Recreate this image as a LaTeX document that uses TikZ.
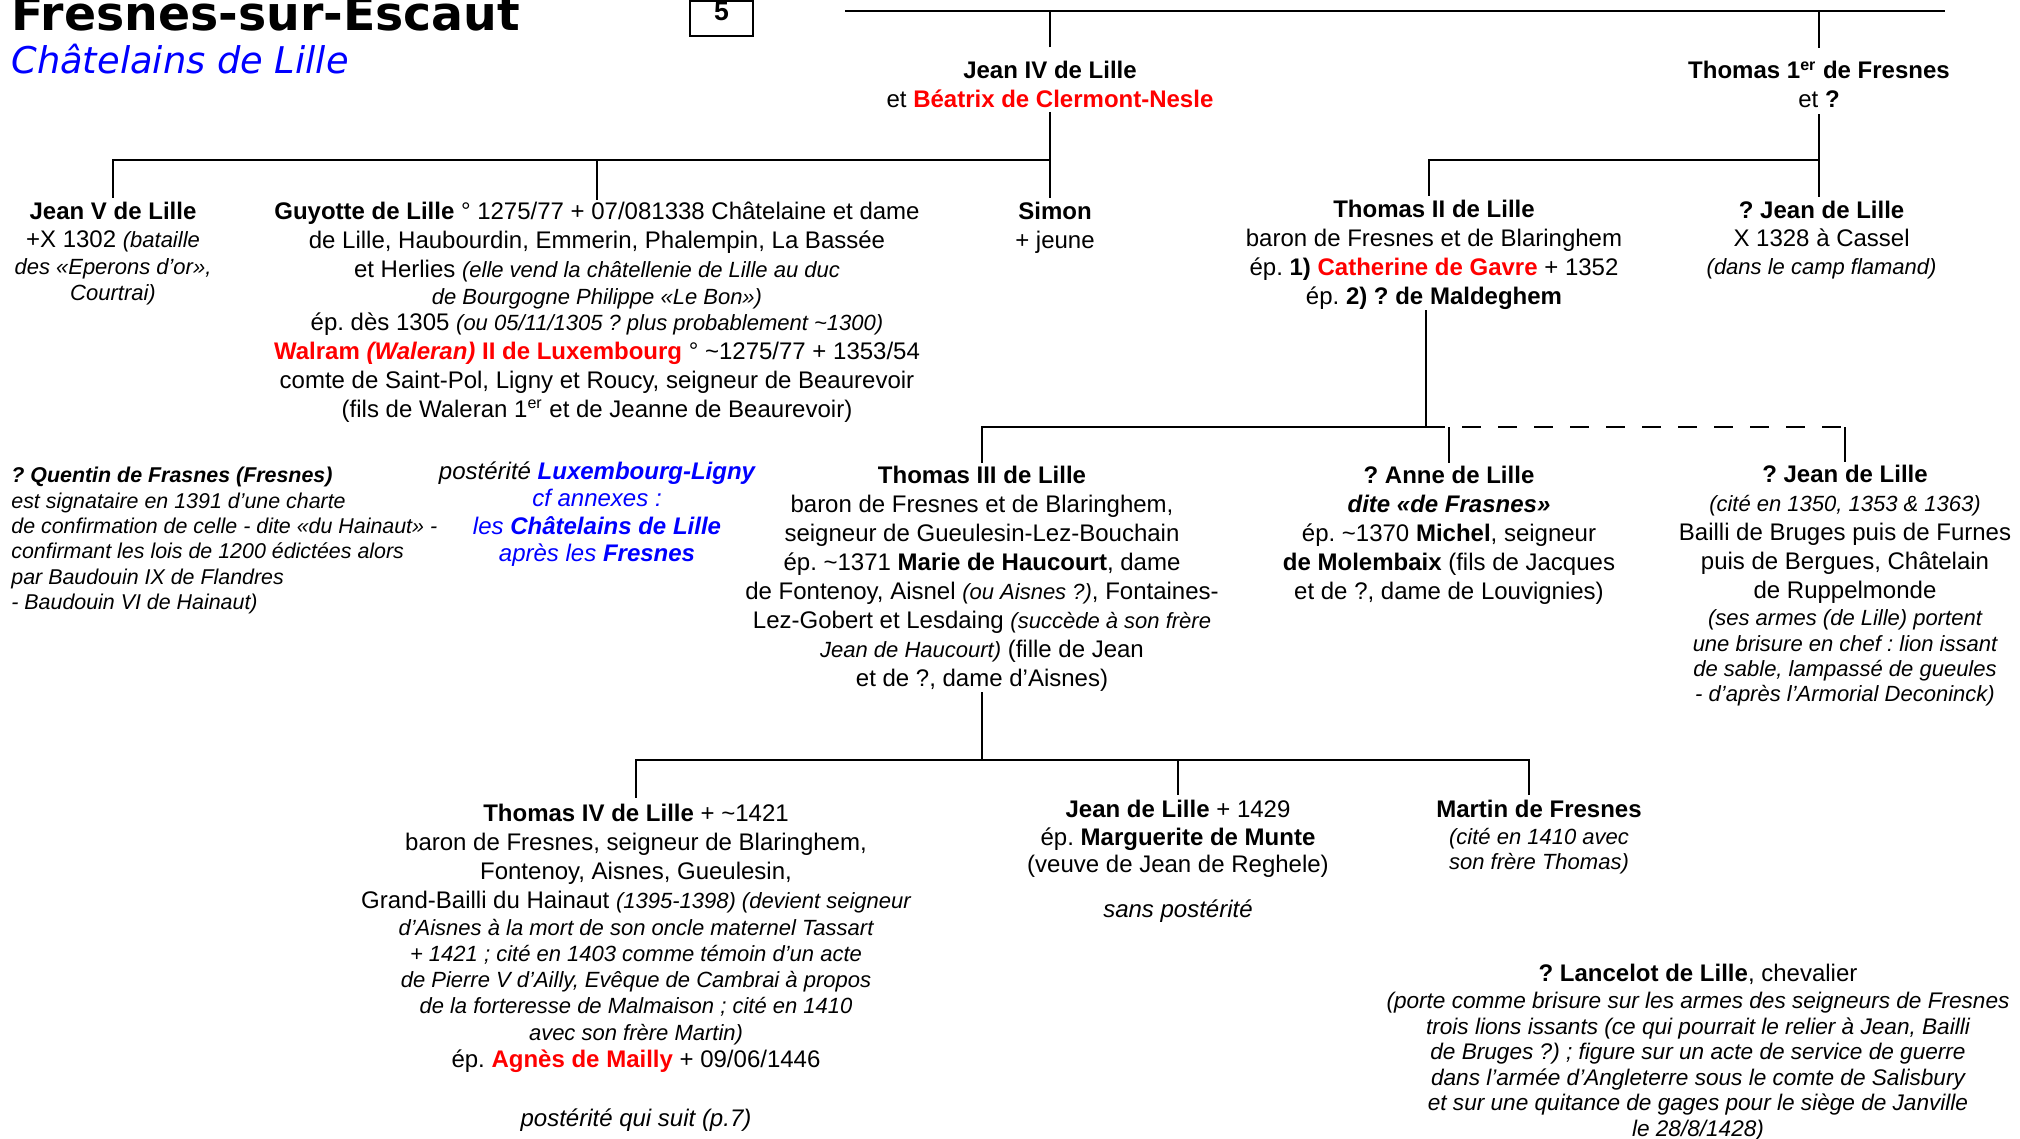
\documentclass[tikz,border=0pt]{standalone}
\usepackage{fontspec}
\setmainfont{Liberation Sans}
\newfontfamily\titlefont{DejaVu Sans}
\definecolor{rouge}{RGB}{255,0,0}
\definecolor{bleu}{RGB}{0,0,255}
\newcommand{\pit}[1]{{\fontsize{11}{13}\selectfont\itshape #1}}
\newcommand{\nomrouge}[1]{\textcolor{rouge}{\textbf{#1}}}
\frenchspacing

\begin{document}
\begin{tikzpicture}[x=0.5pt, y=-0.5pt,
  pers/.style={anchor=north, align=center, inner sep=0pt, font=\fontsize{12}{14.5}\selectfont},
  ligne/.style={black, line width=1pt},
  barre/.style={black, line width=1.3pt},
  pointille/.style={dash pattern=on 9.5pt off 8.5pt}]
\useasboundingbox (0,0) rectangle (2020,1139);

\node[anchor=base west, inner sep=0pt, font=\titlefont\fontsize{23.7}{28}\selectfont\bfseries] (titre) at (11,31) {Fresnes-sur-Escaut};
\node[anchor=base west, inner sep=0pt, text=bleu, font=\titlefont\fontsize{18.4}{22}\selectfont\itshape] (soustitre) at (11,74) {Châtelains de Lille};
\node[draw, line width=0.8pt, anchor=north, minimum width=31.5pt, inner xsep=0pt, inner ysep=0.85pt, text depth=6.65pt, font=\fontsize{13.3}{14}\selectfont\bfseries] (page) at (721.5,0) {5};

\node[pers] (jean4) at (1050,60.5) {\textbf{Jean IV de Lille}\\et \nomrouge{Béatrix de Clermont-Nesle}};
\node[pers] (thomas1) at (1819,61) {\textbf{Thomas 1\textsuperscript{er} de Fresnes}\\et \textbf{?}};

\node[pers] (jean5) at (113,201.7) {\textbf{Jean V de Lille}\\[-0.5pt]
+X 1302 \pit{(bataille}\\[-0.8pt]
\pit{des «Eperons d’or»,}\\[-1.9pt]
\pit{Courtrai)}};
\node[pers] (guyotte) at (597,201.7) {\textbf{Guyotte de Lille} ° 1275/77 + 07/081338 Châtelaine et dame\\
de Lille, Haubourdin, Emmerin, Phalempin, La Bassée\\
et Herlies \pit{(elle vend la châtellenie de Lille au duc}\\[-1.2pt]
\pit{de Bourgogne Philippe «Le Bon»)}\\[-1.3pt]
ép. dès 1305 \pit{(ou 05/11/1305 ? plus probablement \textasciitilde1300)}\\
\nomrouge{Walram \textit{(Waleran)} II de Luxembourg} ° \textasciitilde1275/77 + 1353/54\\
comte de Saint-Pol, Ligny et Roucy, seigneur de Beaurevoir\\
(fils de Waleran 1\textsuperscript{er} et de Jeanne de Beaurevoir)};
\node[pers] (simon) at (1055,201.7) {\textbf{Simon}\\+ jeune};
\node[pers] (thomas2) at (1434,200) {\textbf{Thomas II de Lille}\\
baron de Fresnes et de Blaringhem\\
ép. \textbf{1)} \nomrouge{Catherine de Gavre} + 1352\\
ép. \textbf{2) ? de Maldeghem}};
\node[pers] (jeanA) at (1821.6,201) {\textbf{? Jean de Lille}\\[-0.5pt]
X 1328 à Cassel\\[-0.5pt]
\pit{(dans le camp flamand)}};

\node[anchor=north west, align=left, inner sep=0pt, font=\fontsize{10.7}{12.65}\selectfont\itshape] (quentin) at (11,467) {\textbf{? Quentin de Frasnes (Fresnes)}\\
est signataire en 1391 d’une charte\\
de confirmation de celle - dite «du Hainaut» -\\
confirmant les lois de 1200 édictées alors\\
par Baudouin IX de Flandres\\
- Baudouin VI de Hainaut)};
\node[pers, font=\fontsize{12}{13.8}\selectfont\itshape] (lux) at (597,461) {postérité \textcolor{bleu}{\textbf{Luxembourg-Ligny}}\\
\textcolor{bleu}{cf annexes :}\\
\textcolor{bleu}{les \textbf{Châtelains de Lille}}\\
\textcolor{bleu}{après les \textbf{Fresnes}}};
\node[pers] (thomas3) at (982,466) {\textbf{Thomas III de Lille}\\
baron de Fresnes et de Blaringhem,\\
seigneur de Gueulesin-Lez-Bouchain\\
ép. \textasciitilde1371 \textbf{Marie de Haucourt}, dame\\
de Fontenoy, Aisnel \pit{(ou Aisnes ?)}, Fontaines-\\
Lez-Gobert et Lesdaing \pit{(succède à son frère}\\
\pit{Jean de Haucourt)} (fille de Jean\\
et de ?, dame d’Aisnes)};
\node[pers] (anne) at (1449,466) {\textbf{? Anne de Lille}\\
\textbf{\textit{dite «de Frasnes»}}\\
ép. \textasciitilde1370 \textbf{Michel}, seigneur\\
\textbf{de Molembaix} (fils de Jacques\\
et de ?, dame de Louvignies)};
\node[pers] (jeanB) at (1845,465) {\textbf{? Jean de Lille}\\
\pit{(cité en 1350, 1353 \& 1363)}\\
Bailli de Bruges puis de Furnes\\
puis de Bergues, Châtelain\\
de Ruppelmonde\\[-1pt]
\pit{(ses armes (de Lille) portent}\\[-1.6pt]
\pit{une brisure en chef : lion issant}\\[-1.8pt]
\pit{de sable, lampassé de gueules}\\[-2pt]
\pit{- d’après l’Armorial Deconinck)}};

\node[pers] (thomas4) at (636,803.7) {\textbf{Thomas IV de Lille} + \textasciitilde1421\\
baron de Fresnes, seigneur de Blaringhem,\\
Fontenoy, Aisnes, Gueulesin,\\
Grand-Bailli du Hainaut \pit{(1395-1398) (devient seigneur}\\[-1pt]
\pit{d’Aisnes à la mort de son oncle maternel Tassart}\\[-1.6pt]
\pit{+ 1421 ; cité en 1403 comme témoin d’un acte}\\[-1.4pt]
\pit{de Pierre V d’Ailly, Evêque de Cambrai à propos}\\[-1.5pt]
\pit{de la forteresse de Malmaison ; cité en 1410}\\[-1pt]
\pit{avec son frère Martin)}\\[-1pt]
ép. \nomrouge{Agnès de Mailly} + 09/06/1446\\[14.8pt]
\textit{postérité qui suit (p.7)}};
\node[pers] (jean3) at (1178,800) {\textbf{Jean de Lille} + 1429\\[-0.8pt]
ép. \textbf{Marguerite de Munte}\\[-0.9pt]
(veuve de Jean de Reghele)\\[8.2pt]
\textit{sans postérité}};
\node[pers] (martin) at (1539,800) {\textbf{Martin de Fresnes}\\[-0.9pt]
\pit{(cité en 1410 avec}\\[-2.1pt]
\pit{son frère Thomas)}};
\node[pers, font=\fontsize{12}{12.8}\selectfont] (lancelot) at (1698,964) {\textbf{? Lancelot de Lille}, chevalier\\[0.6pt]
{\fontsize{11.3}{13}\selectfont\itshape (porte comme brisure sur les armes des seigneurs de Fresnes}\\
{\fontsize{11.3}{13}\selectfont\itshape trois lions issants (ce qui pourrait le relier à Jean, Bailli}\\
{\fontsize{11.3}{13}\selectfont\itshape de Bruges ?) ; figure sur un acte de service de guerre}\\
{\fontsize{11.3}{13}\selectfont\itshape dans l’armée d’Angleterre sous le comte de Salisbury}\\
{\fontsize{11.3}{13}\selectfont\itshape et sur une quitance de gages pour le siège de Janville}\\
{\fontsize{11.3}{13}\selectfont\itshape le 28/8/1428)}};

\coordinate (hautG) at (845,11);
\coordinate (hautD) at (1945,11);
\coordinate (rang1) at (0,160);
\coordinate (rang2) at (0,427);
\coordinate (rang3) at (0,760);

\draw[barre] (hautG) -- (hautD);
\draw[ligne] ([yshift=6.5pt]jean4.north) -- (jean4.north |- hautG);
\draw[ligne] ([yshift=6.5pt]thomas1.north) -- (thomas1.north |- hautG);
\draw[ligne] ([yshift=-2pt]jean4.south) -- ([yshift=2pt]jean4.south |- simon.north);
\draw[ligne] (jean4.south |- rang1) -| ([yshift=2pt]jean5.north);
\draw[ligne] (guyotte.north |- rang1) -- ([yshift=1pt]guyotte.north);
\draw[ligne] ([yshift=-3pt]thomas1.south) -- ([yshift=2pt]thomas1.south |- jeanA.north);
\draw[ligne] (thomas1.south |- rang1) -| ([xshift=-2.5pt,yshift=2pt]thomas2.north);
\draw[ligne] ([xshift=-4pt]thomas2.south) -- ([xshift=-4pt]thomas2.south |- rang2) -| ([yshift=1.5pt]thomas3.north);
\draw[ligne, pointille] ([xshift=-4pt]thomas2.south |- rang2) -- (jeanB.north |- rang2);
\draw[ligne] (jeanB.north |- rang2) -- ([yshift=1.5pt]jeanB.north);
\draw[ligne] (anne.north |- rang2) -- ([yshift=1.5pt]anne.north);
\draw[ligne] (thomas3.south) -- (thomas3.south |- rang3);
\draw[ligne] ([yshift=3pt]thomas4.north) |- ([xshift=-5pt]martin.north |- rang3) -- ([xshift=-5pt,yshift=2.5pt]martin.north);
\draw[ligne] (jean3.north |- rang3) -- ([yshift=2.5pt]jean3.north);
\end{tikzpicture}
\end{document}
